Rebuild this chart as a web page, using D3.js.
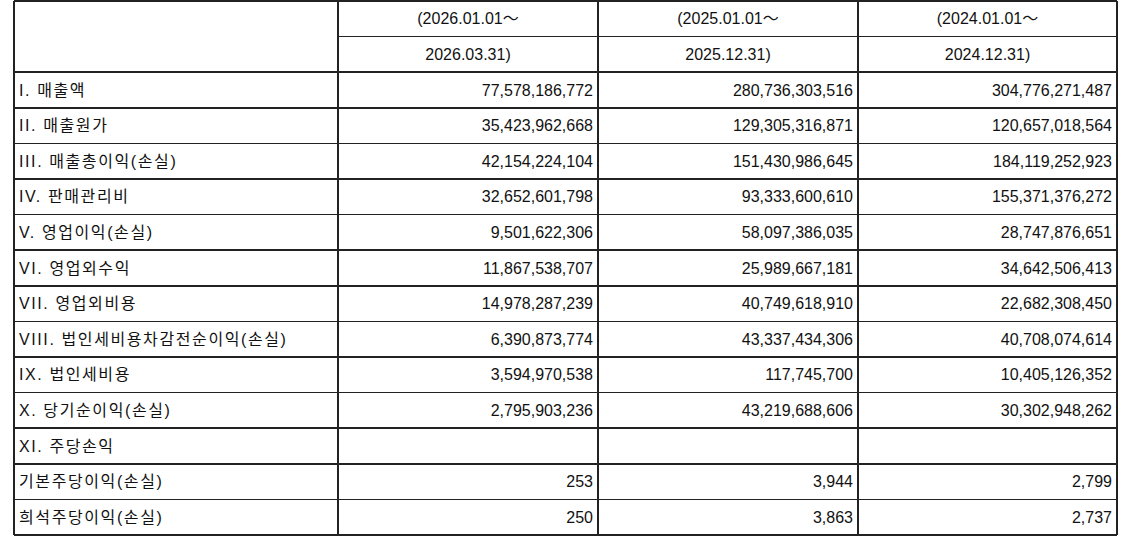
<!DOCTYPE html><html><head><meta charset="utf-8">
<script src="https://cdn.jsdelivr.net/npm/d3@7"></script>
<style>body{margin:0;background:#fff}</style></head><body><svg id="c" width="1126" height="546"></svg>
<script>
const periodStart=["(2026.01.01～","(2025.01.01～","(2024.01.01～"];
const periodEnd=["2026.03.31)","2025.12.31)","2024.12.31)"];
const items=["I. 매출액","II. 매출원가","III. 매출총이익(손실)","IV. 판매관리비","V. 영업이익(손실)","VI. 영업외수익","VII. 영업외비용","VIII. 법인세비용차감전순이익(손실)","IX. 법인세비용","X. 당기순이익(손실)","XI. 주당손익","기본주당이익(손실)","희석주당이익(손실)"];
const v2026=["77,578,186,772","35,423,962,668","42,154,224,104","32,652,601,798","9,501,622,306","11,867,538,707","14,978,287,239","6,390,873,774","3,594,970,538","2,795,903,236","","253","250"];
const v2025=["280,736,303,516","129,305,316,871","151,430,986,645","93,333,600,610","58,097,386,035","25,989,667,181","40,749,618,910","43,337,434,306","117,745,700","43,219,688,606","","3,944","3,863"];
const v2024=["304,776,271,487","120,657,018,564","184,119,252,923","155,371,376,272","28,747,876,651","34,642,506,413","22,682,308,450","40,708,074,614","10,405,126,352","30,302,948,262","","2,799","2,737"];
const cols=[v2026,v2025,v2024];
const svg=d3.select("#c");
const font="'Liberation Sans','Noto Sans CJK KR',sans-serif";
const colEdges=[14,338,598,858,1117];
const y=d3.scaleBand().domain(d3.range(15)).range([1,535]);
const g=svg.append("g").attr("font-family",font).attr("font-size",16).attr("fill","#111");
periodStart.forEach((t,i)=>{
 const cx=(colEdges[i+1]+colEdges[i+2])/2;
 g.append("text").attr("x",cx).attr("y",y(0)+y.bandwidth()/2).attr("dy","0.35em").attr("text-anchor","middle").text(t);
 g.append("text").attr("x",cx).attr("y",y(1)+y.bandwidth()/2).attr("dy","0.35em").attr("text-anchor","middle").text(periodEnd[i]);
});
items.forEach((t,r)=>{
 const yy=y(r+2)+y.bandwidth()/2;
 g.append("text").attr("x",colEdges[0]+5).attr("y",yy).attr("dy","0.35em").attr("letter-spacing","1.6px").text(t);
 cols.forEach((c,i)=>{
  g.append("text").attr("x",colEdges[i+2]-5).attr("y",yy).attr("dy","0.35em").attr("text-anchor","end").text(c[r]);
 });
});
const L=svg.append("g").attr("stroke","#222").attr("stroke-width",1.5).attr("shape-rendering","crispEdges");
d3.range(16).forEach(r=>{
 const x1 = r===1? colEdges[1]:colEdges[0];
 const yy = r===15?535:y(r);
 L.append("line").attr("x1",x1).attr("x2",colEdges[4]).attr("y1",yy).attr("y2",yy);
});
colEdges.forEach(x=>L.append("line").attr("x1",x).attr("x2",x).attr("y1",1).attr("y2",535));
</script></body></html>
